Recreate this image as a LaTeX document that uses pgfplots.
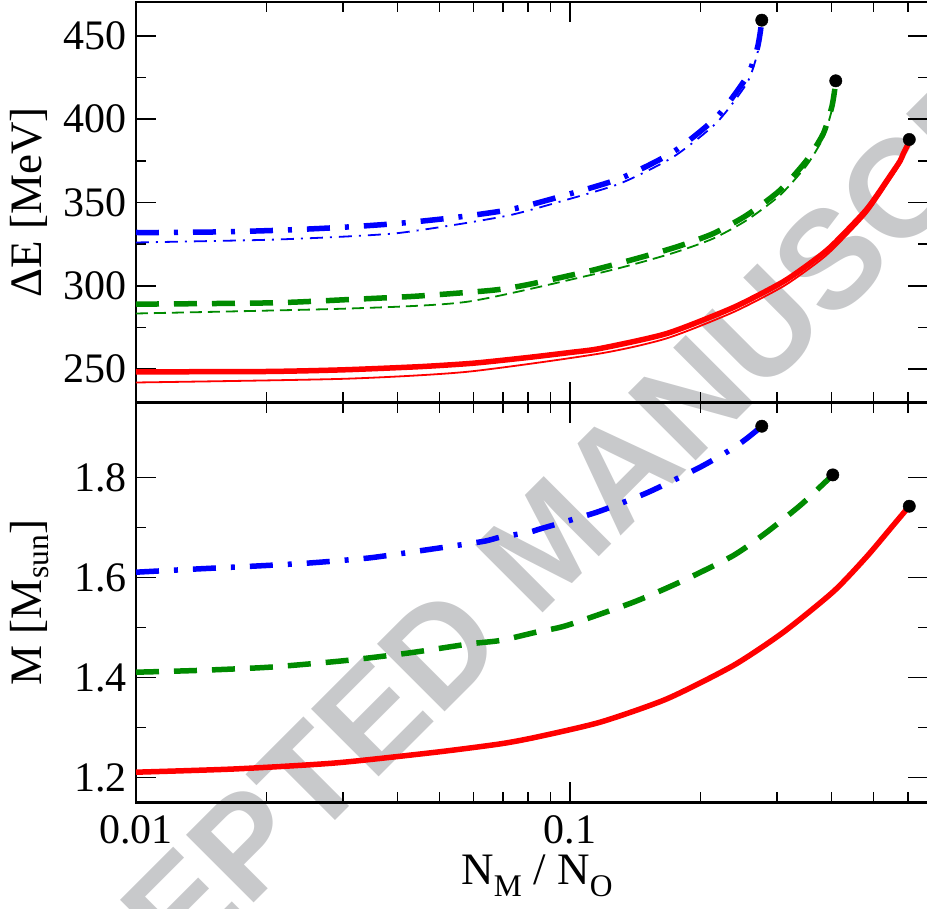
\documentclass[border=0pt]{standalone}
\usepackage{fontspec}
\setmainfont{Liberation Serif}
\newfontfamily\wmfont{Liberation Sans}
\usepackage{pgfplots}
\pgfplotsset{compat=1.18}
\definecolor{wmgray}{RGB}{200,201,203}
\definecolor{mygreen}{RGB}{0,139,0}
\definecolor{myblue}{RGB}{0,0,255}
\definecolor{myred}{RGB}{255,0,0}
\pgfplotsset{
  panel/.style={
    scale only axis, width=791.5bp, height=400bp,
    xmin=0.01, xmax=0.666,
    xtick={0.01,0.1},
    minor xtick={0.02,0.03,0.04,0.05,0.06,0.07,0.08,0.09,0.2,0.3,0.4,0.5,0.6},
    major tick length=20bp, minor tick length=10bp,
    tick align=inside, xtick pos=both, ytick pos=both,
    every tick/.append style={black, line width=1.4bp},
    axis line style={line width=2bp},
    tick label style={font=\fontsize{42bp}{48bp}\selectfont},
    /pgf/number format/assume math mode=true,
    label style={font=\fontsize{45bp}{52bp}\selectfont},
    ylabel style={at={(axis description cs:-0.1188,0.5)}, anchor=base},
    yticklabel style={inner xsep=0pt, xshift=-9bp},
    minor y tick num=1,
  },
  thickline/.style={line width=5.5bp, smooth, tension=0.4},
  thinline/.style={line width=1.8bp, smooth, tension=0.4},
  bdd/.style={dash pattern=on 23bp off 15bp on 4bp off 15bp},
  gdd/.style={dash pattern=on 23bp off 15bp},
  bdt/.style={dash pattern=on 13bp off 7bp on 2bp off 7bp},
  gdt/.style={dash pattern=on 12bp off 6bp},
  endpt/.style={only marks, mark=*, mark size=6.2bp, mark options={fill=black, draw=black}},
}
\begin{document}
\begin{tikzpicture}
\path[use as bounding box] (0,0) rectangle (927bp,909bp);
\begin{scope}
\clip (0,0) rectangle (927bp,909bp);
\node[rotate=45, text=wmgray, font=\wmfont\bfseries\fontsize{139bp}{139bp}\selectfont, inner sep=0pt] at (546.5bp,366.7bp) {ACCEPTED MANUSCRIPT};
\end{scope}

% ---------- top panel ----------
\begin{semilogxaxis}[panel, at={(136bp,506.5bp)}, anchor=south west,
  ymin=230, ymax=470, ytick={250,300,350,400,450},
  xticklabels={}, ylabel={ΔE [MeV]}]
% blue thin
\addplot[myblue, thinline, bdt] coordinates {
(0.01,326.0) (0.02,327.6) (0.03,329.5) (0.04,331.6) (0.0543,336.6) (0.073,342.5)
(0.0948,350.5) (0.1304,361.4) (0.173,377.4) (0.2178,398.0) (0.2554,421.5)
(0.2693,438) (0.274,449) (0.2765,459.4)};
% blue thick
\addplot[myblue, thickline, bdd] coordinates {
(0.01,332.0) (0.01136,332.0) (0.01603,332.4) (0.02166,333.4) (0.02937,335.0)
(0.04,337.4) (0.0543,341.0) (0.073,345.8) (0.0948,353.5) (0.1304,364.4)
(0.173,380.4) (0.2178,401.4) (0.2554,425.4) (0.2693,441.4) (0.274,451.4) (0.2765,459.4)};
% green thin
\addplot[mygreen, thinline, gdt] coordinates {
(0.01,283.4) (0.0311,286.4) (0.0578,290.4) (0.1112,306.4) (0.1424,313.4)
(0.1762,320.4) (0.2139,328.4) (0.2554,339.4) (0.3047,354.4) (0.3511,372.4)
(0.3833,389) (0.4009,405.5) (0.408,418.5) (0.4094,423)};
% green thick
\addplot[mygreen, thickline, gdd] coordinates {
(0.01,289.0) (0.0207,289.8) (0.0311,291.8) (0.0443,293.8) (0.0666,297.4)
(0.0809,301) (0.1112,309) (0.1424,316.4) (0.1762,323.4) (0.2139,331.4)
(0.2554,342.4) (0.3047,357.4) (0.3511,375.4) (0.3833,391.4) (0.4009,407.4)
(0.408,419.4) (0.4094,423)};
% red thin
\addplot[myred, thinline] coordinates {
(0.01,242.0) (0.03,244.2) (0.0578,248.4) (0.1173,259.4) (0.1671,268.5)
(0.2378,284.2) (0.31,299.7) (0.37,313.7) (0.4044,322.3) (0.4827,343.5)
(0.5462,363.8) (0.5761,373.2) (0.5861,377.8) (0.6018,384.6) (0.6046,387.8)};
% red thick
\addplot[myred, thickline] coordinates {
(0.01,248.4) (0.02,248.6) (0.03,249.6) (0.045,251.5) (0.06,253.6) (0.08,257.0)
(0.1,260.0) (0.1173,262.4) (0.1671,271.4) (0.2378,287.0) (0.31,302.5) (0.37,316.5)
(0.4044,325) (0.4827,346) (0.5462,366) (0.5761,375) (0.5861,379.5)
(0.6018,385.5) (0.6046,387.8)};
\addplot[endpt] coordinates {(0.2765,459.4) (0.4094,423) (0.6046,387.8)};
\end{semilogxaxis}

% ---------- bottom panel ----------
\begin{semilogxaxis}[panel, at={(136bp,106.5bp)}, anchor=south west,
  ymin=1.15, ymax=1.95, ytick={1.2,1.4,1.6,1.8},
  yticklabel style={/pgf/number format/fixed, /pgf/number format/fixed zerofill, /pgf/number format/precision=1},
  xticklabels={0.01,0.1},
  xticklabel style={anchor=base, yshift=-40.5bp},
  ylabel={M [M\textsubscript{sun}]},
  xlabel={N\textsubscript{M} / N\textsubscript{O}},
  xlabel style={at={(axis description cs:0.507,-0.204)}, anchor=base}]
\addplot[myblue, thickline, bdd] coordinates {
(0.01,1.6106) (0.01375,1.617) (0.01857,1.6226) (0.02508,1.629) (0.03448,1.6392)
(0.04658,1.6552) (0.0629,1.672) (0.069,1.6806) (0.0806,1.6906) (0.0853,1.6972)
(0.1152,1.7306) (0.1502,1.7692) (0.1993,1.8206) (0.2378,1.859) (0.2575,1.8806)
(0.2765,1.9026)};
\addplot[mygreen, thickline, gdd] coordinates {
(0.01,1.4106) (0.01375,1.414) (0.02028,1.4206) (0.03047,1.434) (0.04263,1.4492)
(0.05861,1.4672) (0.069,1.474) (0.08351,1.4906) (0.0982,1.504) (0.1399,1.5506)
(0.1824,1.594) (0.2378,1.644) (0.2839,1.6906) (0.3388,1.744) (0.3767,1.781)
(0.403,1.8052)};
\addplot[myred, thickline] coordinates {
(0.01,1.2106) (0.017,1.2172) (0.0289,1.2292) (0.0491,1.2506) (0.069,1.2672)
(0.0835,1.2806) (0.1173,1.3106) (0.1671,1.3572) (0.2378,1.424) (0.3101,1.4906)
(0.4044,1.572) (0.4827,1.642) (0.5559,1.705) (0.6046,1.7426)};
\addplot[endpt] coordinates {(0.2765,1.9026) (0.403,1.8052) (0.6046,1.7426)};
\end{semilogxaxis}
\end{tikzpicture}
\end{document}
